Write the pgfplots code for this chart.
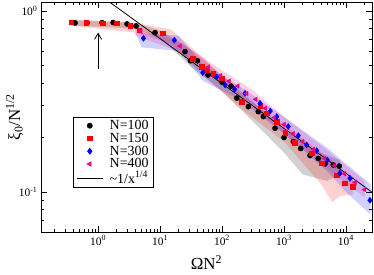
\documentclass[border=0pt]{standalone}
\usepackage{fontspec}
\setmainfont{Liberation Serif}
\usepackage{pgfplots}
\pgfplotsset{compat=1.18}
\usetikzlibrary{arrows.meta}
\begin{document}
\begin{tikzpicture}
\path[use as bounding box] (-41bp,-43bp) rectangle (333bp,232bp);
\begin{axis}[
  scale only axis,
  width=331bp, height=230bp,
  xmode=log, ymode=log,
  xmin=0.12, xmax=26300, ymin=0.0601, ymax=1.121,
  xtick={1,10,100,1000,10000},
  xticklabels={10\textsuperscript{0},10\textsuperscript{1},10\textsuperscript{2},10\textsuperscript{3},10\textsuperscript{4}},
  ytick={0.1,1},
  yticklabels={10\textsuperscript{-1},10\textsuperscript{0}},
  minor xtick={0.2,0.3,0.4,0.5,0.6,0.7,0.8,0.9,2,3,4,5,6,7,8,9,20,30,40,50,60,70,80,90,200,300,400,500,600,700,800,900,2000,3000,4000,5000,6000,7000,8000,9000,20000},
  minor ytick={0.07,0.08,0.09,0.2,0.3,0.4,0.5,0.6,0.7,0.8,0.9},
  major tick length=6bp, minor tick length=3.5bp,
  tick style={black, line width=0.6pt},
  axis line style={line width=0.8pt},
  tick label style={font=\fontsize{11.5}{12}\selectfont},
  xlabel={ΩN\textsuperscript{2}},
  ylabel={ξ\textsubscript{0}/N\textsuperscript{1/2}},
  label style={font=\fontsize{17}{18}\selectfont},
  xlabel style={at={(axis description cs:0.5,-0.165)}, anchor=base},
  ylabel style={at={(axis description cs:-0.08,0.5)}, anchor=center},
  legend image code/.code={\draw[mark repeat=2,mark phase=2,#1] plot coordinates {(0bp,0bp) (13bp,0bp) (26bp,0bp)};},
  legend style={at={(axis description cs:0.097,0.5)}, anchor=north west,
    font=\fontsize{14}{15}\selectfont, draw=black, line width=0.6pt,
    inner xsep=3bp, inner ysep=1.5bp, row sep=-1pt, cells={anchor=west},
    nodes={inner sep=1.5bp},
    /tikz/every odd column/.append style={column sep=5bp}},
  legend cell align=left,
]
% bands
\addplot[fill=black, fill opacity=0.18, draw=none, forget plot] coordinates {
(0.4,0.89)(4,0.86)(10,0.78)(30,0.62)(100,0.44)(300,0.32)(1000,0.22)(3000,0.17)(8000,0.15)
(8000,0.125)(5000,0.115)(2000,0.125)(1000,0.165)(300,0.25)(100,0.36)(30,0.5)(10,0.71)(4,0.8)(0.4,0.83)};
\addplot[fill=red, fill opacity=0.18, draw=none, forget plot] coordinates {
(0.35,0.9)(4,0.86)(15,0.79)(50,0.55)(200,0.35)(1000,0.235)(4000,0.165)(13000,0.12)
(13000,0.097)(8000,0.095)(6000,0.088)(4000,0.11)(1000,0.19)(200,0.29)(50,0.44)(15,0.66)(4,0.76)(0.35,0.83)};
\addplot[fill=blue, fill opacity=0.18, draw=none, forget plot] coordinates {
(4,0.76)(20,0.73)(50,0.5)(200,0.38)(1000,0.26)(5000,0.175)(25000,0.11)
(25000,0.075)(10000,0.1)(5000,0.13)(1000,0.21)(200,0.32)(50,0.41)(20,0.6)(5,0.63)};
\addplot[fill=magenta, fill opacity=0.18, draw=none, forget plot] coordinates {
(4,0.8)(20,0.68)(100,0.47)(300,0.37)(1000,0.26)(5000,0.17)(20000,0.115)
(20000,0.093)(5000,0.135)(1000,0.21)(300,0.3)(100,0.4)(20,0.6)(4,0.73)};
% data
\addplot[only marks, mark=*, mark size=2.6bp, black] coordinates {
(0.425,0.859)(0.665,0.859)(1.16,0.862)(1.75,0.864)(2.93,0.848)(4.1,0.826)(8.3,0.759)(25.3,0.596)(31,0.531)(40,0.531)(59.5,0.443)(72,0.449)(100,0.405)(140,0.385)(173,0.33)(266,0.296)(385,0.278)(464,0.261)(716,0.225)(1000,0.2)(1414,0.19)(1860,0.174)(2630,0.159)(3575,0.153)(4580,0.143)(6240,0.141)(7780,0.139)};
\addlegendentry{N=100}
\addplot[only marks, mark=square*, mark size=2.3bp, red] coordinates {
(0.367,0.867)(0.64,0.859)(1.2,0.855)(2.0,0.855)(3.28,0.829)(4.63,0.785)(11.1,0.753)(33.6,0.543)(46.9,0.492)(57.9,0.472)(71.6,0.449)(99,0.425)(208,0.315)(410,0.299)(526,0.273)(763,0.245)(1038,0.212)(1503,0.187)(2800,0.164)(4060,0.144)(7080,0.124)(9630,0.112)(12800,0.107)};
\addlegendentry{N=150}
\addplot[only marks, mark=diamond*, mark size=3bp, blue] coordinates {
(5.4,0.706)(17,0.69)(49,0.456)(82,0.432)(112,0.39)(160,0.37)(235,0.351)(410,0.309)(600,0.28)(763,0.261)(1170,0.23)(1700,0.205)(2320,0.182)(3370,0.169)(5000,0.15)(8000,0.127)(11600,0.119)(24400,0.090)};
\addlegendentry{N=300}
\addplot[only marks, mark=triangle*, mark size=2.7bp, mark options={rotate=90}, magenta] coordinates {
(4.9,0.77)(21,0.64)(60,0.49)(95,0.44)(130,0.41)(180,0.385)(250,0.35)(350,0.325)(500,0.29)(700,0.258)(1000,0.236)(1400,0.21)(2000,0.19)(3000,0.172)(4500,0.153)(6500,0.14)(9500,0.126)(14000,0.113)(20000,0.103)};
\addlegendentry{N=400}
\addplot[black, line width=0.8pt, no marks] coordinates {(1.3,1.1667)(30000,0.0965)};
\addlegendentry{\textasciitilde1/x\textsuperscript{1/4}}
\draw[line width=0.8pt, -{Straight Barb[length=6bp,width=7bp]}] (axis cs:1,0.48) -- (axis cs:1,0.76);
\end{axis}
\end{tikzpicture}
\end{document}
